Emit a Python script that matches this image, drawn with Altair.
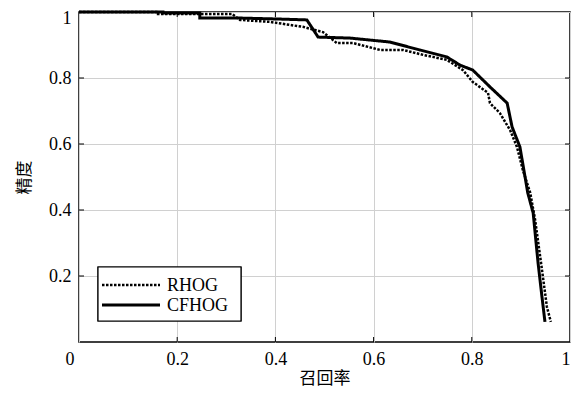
import altair as alt
import pandas as pd

# CFHOG (solid) curve
cf_recall = [0.0, 0.171, 0.171, 0.246, 0.246, 0.318, 0.399, 0.464, 0.487, 0.552, 0.633, 0.694,
             0.749, 0.776, 0.802, 0.837, 0.872, 0.882, 0.898, 0.914, 0.925, 0.935, 0.943, 0.949]
cf_precision = [1.0, 1.0, 0.997, 0.997, 0.982, 0.982, 0.979, 0.976, 0.924, 0.921, 0.909, 0.885,
                0.864, 0.839, 0.824, 0.773, 0.724, 0.652, 0.591, 0.452, 0.391, 0.239, 0.136, 0.061]

# RHOG (dotted) curve
rh_recall = [0.0, 0.161, 0.161, 0.253, 0.312, 0.328, 0.389, 0.456, 0.497, 0.525, 0.558, 0.613,
             0.660, 0.701, 0.749, 0.782, 0.802, 0.833, 0.837, 0.857, 0.878, 0.892, 0.904, 0.919,
             0.929, 0.943, 0.953, 0.961]
rh_precision = [1.0, 1.0, 0.994, 0.994, 0.994, 0.976, 0.970, 0.955, 0.939, 0.906, 0.906, 0.885,
                0.885, 0.870, 0.855, 0.824, 0.788, 0.755, 0.724, 0.694, 0.642, 0.591, 0.521, 0.452,
                0.370, 0.218, 0.106, 0.061]

methods = ["RHOG", "CFHOG"]
x_ticks = [0, 0.2, 0.4, 0.6, 0.8, 1]
y_ticks = [0.2, 0.4, 0.6, 0.8, 1]
inner_x_ticks = [0.2, 0.4, 0.6, 0.8]
inner_y_ticks = [0.2, 0.4, 0.6, 0.8]

rows = []
for i, (r, p) in enumerate(zip(rh_recall, rh_precision)):
    rows.append({"recall": r, "precision": p, "method": "RHOG", "order": i})
for i, (r, p) in enumerate(zip(cf_recall, cf_precision)):
    rows.append({"recall": r, "precision": p, "method": "CFHOG", "order": i})
df = pd.DataFrame(rows)

W, H = 491, 330
label_font = "Liberation Serif"
cjk_font = "Noto Sans CJK SC"

xscale = alt.Scale(domain=[0, 1], nice=False)
yscale = alt.Scale(domain=[0, 1], nice=False)
dash_range = [[2.5, 1.5], [1, 0]]
width_range = [2.5, 3]

common_axis = dict(grid=True, ticks=False, domain=False,
                   labelFont=label_font, labelFontSize=18, labelColor="black",
                   titleFont=cjk_font, titleFontSize=17, titleFontWeight="normal", titleColor="black",
                   gridColor="#d0d0d0", gridWidth=1)
xaxis = alt.Axis(values=x_ticks, format="~g", title="召回率", labelPadding=8,
                 labelOffset=alt.condition("datum.value == 0", alt.value(-14), alt.value(0)),
                 titlePadding=2, **common_axis)
yaxis = alt.Axis(values=y_ticks, format="~g", title="精度", labelPadding=8,
                 labelOffset=alt.condition("datum.value == 1", alt.value(6), alt.value(0)),
                 titlePadding=15, **common_axis)

lines = alt.Chart(df).mark_line(strokeCap="butt", strokeJoin="miter").encode(
    x=alt.X("recall:Q", scale=xscale, axis=xaxis),
    y=alt.Y("precision:Q", scale=yscale, axis=yaxis),
    color=alt.Color("method:N", scale=alt.Scale(domain=methods, range=["black", "black"]), legend=None),
    strokeDash=alt.StrokeDash("method:N", scale=alt.Scale(domain=methods, range=dash_range), legend=None),
    strokeWidth=alt.StrokeWidth("method:N", scale=alt.Scale(domain=methods, range=width_range), legend=None),
    order="order:Q",
)

tx = pd.DataFrame({"t": inner_x_ticks})
ty = pd.DataFrame({"t": inner_y_ticks})
tick_style = dict(color="black", strokeWidth=1)
bx = alt.Chart(tx).mark_rule(**tick_style).encode(x=alt.X("t:Q", scale=xscale, axis=xaxis),
                                                   y=alt.value(H), y2=alt.value(H - 5))
tpx = alt.Chart(tx).mark_rule(**tick_style).encode(x=alt.X("t:Q", scale=xscale, axis=xaxis),
                                                    y=alt.value(0), y2=alt.value(5))
ly = alt.Chart(ty).mark_rule(**tick_style).encode(y=alt.Y("t:Q", scale=yscale, axis=yaxis),
                                                   x=alt.value(0), x2=alt.value(5))
ry = alt.Chart(ty).mark_rule(**tick_style).encode(y=alt.Y("t:Q", scale=yscale, axis=yaxis),
                                                   x=alt.value(W), x2=alt.value(W - 5))

# manual legend
leg_df = pd.DataFrame({"method": methods})
box = alt.Chart(leg_df).mark_rect(fill="white", stroke="black", strokeWidth=1.2).encode(
    x=alt.value(19), x2=alt.value(162), y=alt.value(255), y2=alt.value(309))
legend_layers = [box]
for i, m in enumerate(methods):
    yy = 273 + 20 * i
    legend_layers.append(
        alt.Chart(leg_df).transform_filter(alt.datum.method == m)
        .mark_rule(color="black", strokeWidth=width_range[i], strokeDash=dash_range[i], strokeCap="butt")
        .encode(x=alt.value(23), x2=alt.value(81), y=alt.value(yy))
    )
    legend_layers.append(
        alt.Chart(leg_df).transform_filter(alt.datum.method == m)
        .mark_text(align="left", baseline="middle", font=label_font, fontSize=18, color="black")
        .encode(x=alt.value(88), y=alt.value(yy + 1), text="method:N")
    )

chart = alt.layer(lines, bx, tpx, ly, ry, *legend_layers).properties(
    width=W, height=H,
    autosize=alt.AutoSizeParams(type="none"),
    padding={"left": 71, "top": 4, "right": 3, "bottom": 52},
    background="white",
).configure_view(
    stroke="black", strokeWidth=1.5
).configure_axis(
    labelFont=label_font, labelFontSize=18, labelColor="black"
)

chart.save("out.html", embed_options={"renderer": "svg", "actions": False})
